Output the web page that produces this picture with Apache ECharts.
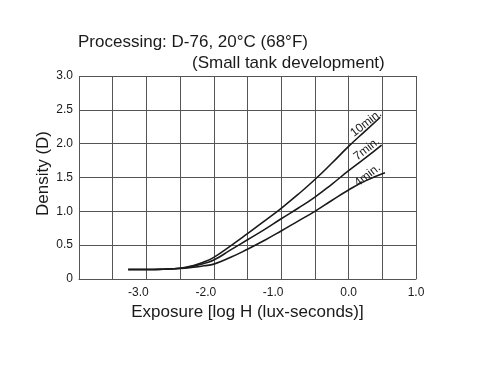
<!DOCTYPE html>
<html>
<head>
<meta charset="utf-8">
<script src="https://cdn.jsdelivr.net/npm/echarts@6/dist/echarts.min.js"></script>
<style>html,body{margin:0;padding:0;background:#fff;}#c{width:480px;height:366px;}</style>
</head>
<body>
<div id="c"></div>
<script>
var seriesNames = ['10min.', '7min.', '4min.'];
var curve10 = [[-3.27,0.14],[-3.0,0.14],[-2.75,0.145],[-2.5,0.16],[-2.3,0.2],[-2.15,0.25],[-2.0,0.32],[-1.75,0.49],[-1.5,0.67],[-1.25,0.855],[-1.0,1.045],[-0.75,1.25],[-0.5,1.47],[-0.25,1.71],[0.0,1.96],[0.25,2.19],[0.47,2.39]];
var curve7 = [[-3.27,0.14],[-3.0,0.14],[-2.75,0.145],[-2.5,0.16],[-2.3,0.19],[-2.15,0.23],[-2.0,0.28],[-1.75,0.43],[-1.5,0.58],[-1.25,0.73],[-1.0,0.89],[-0.75,1.045],[-0.5,1.21],[-0.25,1.4],[0.0,1.6],[0.25,1.79],[0.49,1.98]];
var curve4 = [[-3.27,0.14],[-3.0,0.14],[-2.75,0.145],[-2.5,0.155],[-2.3,0.175],[-2.15,0.195],[-2.0,0.22],[-1.75,0.32],[-1.5,0.44],[-1.25,0.57],[-1.0,0.71],[-0.75,0.855],[-0.5,1.0],[-0.25,1.16],[0.0,1.315],[0.25,1.45],[0.54,1.57]];
var labelPos = [[0.26,2.3],[0.27,1.92],[0.28,1.53]];
var xTickLabels = [-3, -2, -1, 0, 1];
var titleLine1 = 'Processing: D-76, 20°C (68°F)';
var titleLine2 = '(Small tank development)';

var FONT = 'Liberation Sans, Arial, sans-serif';
var curves = [curve10, curve7, curve4];
var chart = echarts.init(document.getElementById('c'), null, {renderer: 'canvas'});
var series = curves.map(function (d, i) {
  return {
    type: 'line', data: d, smooth: 0.5, symbol: 'none',
    lineStyle: {color: '#1a1a1a', width: 1.6},
    markPoint: {
      symbol: 'circle', symbolSize: 0,
      data: [{coord: labelPos[i], value: seriesNames[i]}],
      label: {show: true, position: 'inside', formatter: seriesNames[i], rotate: 38,
        fontFamily: FONT, fontSize: 12, color: '#1a1a1a'}
    }
  };
});
chart.setOption({
  animation: false,
  backgroundColor: '#fff',
  title: [
    {text: titleLine1, left: 73, top: 29, textStyle: {fontFamily: FONT, fontSize: 17, fontWeight: 'normal', color: '#1a1a1a'}},
    {text: titleLine2, left: 187, top: 50, textStyle: {fontFamily: FONT, fontSize: 17, fontWeight: 'normal', color: '#1a1a1a'}}
  ],
  grid: {left: 79, right: 64, top: 76, bottom: 87},
  xAxis: {
    type: 'value', min: -4, max: 1, interval: 0.5,
    name: 'Exposure [log H (lux-seconds)]', nameLocation: 'middle', nameGap: 25,
    nameMoveOverlap: false,
    nameTextStyle: {fontFamily: FONT, fontSize: 17, color: '#1a1a1a'},
    axisLine: {show: true, lineStyle: {color: '#555', width: 1}},
    axisTick: {show: false},
    splitLine: {show: true, lineStyle: {color: '#555', width: 1}},
    axisLabel: {
      margin: 8, fontFamily: FONT, fontSize: 12, color: '#1a1a1a',
      formatter: function (v) {
        var r = Math.round(v * 10) / 10;
        if (xTickLabels.indexOf(r) < 0) return '';
        return r < 0 ? '{n|' + r.toFixed(1) + '}' : r.toFixed(1);
      },
      rich: {n: {fontFamily: FONT, fontSize: 12, color: '#1a1a1a', padding: [0, 16, 0, 0]}}
    }
  },
  yAxis: {
    type: 'value', min: 0, max: 3, interval: 0.5,
    name: 'Density (D)', nameLocation: 'middle', nameGap: 27, nameRotate: 90,
    nameMoveOverlap: false,
    nameTextStyle: {fontFamily: FONT, fontSize: 17, color: '#1a1a1a', padding: [0, 0, 0, 8]},
    axisLine: {show: true, lineStyle: {color: '#555', width: 1}},
    axisTick: {show: false},
    splitLine: {show: true, lineStyle: {color: '#555', width: 1}},
    axisLabel: {
      margin: 6, fontFamily: FONT, fontSize: 12, color: '#1a1a1a',
      formatter: function (v) { return v === 0 ? '0' : v.toFixed(1); }
    }
  },
  series: series
});
</script>
</body>
</html>
